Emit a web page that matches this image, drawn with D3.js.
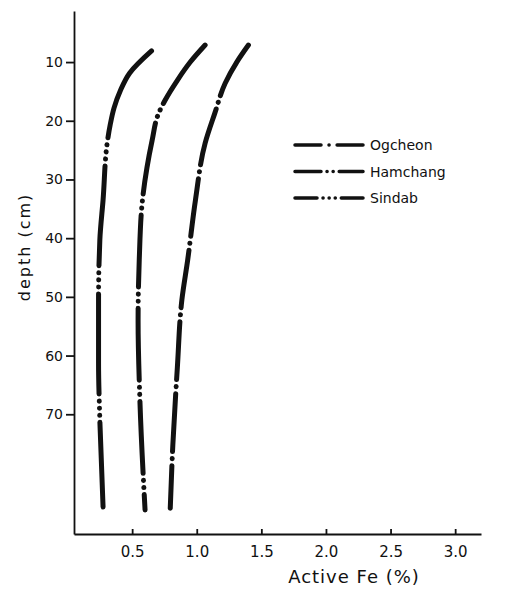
<!DOCTYPE html>
<html>
<head>
<meta charset="utf-8">
<script src="https://cdn.jsdelivr.net/npm/d3@7"></script>
<style>
  body { margin: 0; background: #fff; }
  text { font-family: "DejaVu Sans", sans-serif; fill: #111; }
</style>
</head>
<body>
<div id="chart"></div>
<script>
// depth (cm) at which the curves were read
const sindabDepth   = [8.1, 11.9, 14.8, 17.8, 20.7, 23.3, 33.5, 40.3, 50.5, 61.3, 71, 85.8];
const sindabFe      = [0.65, 0.48, 0.41, 0.36, 0.33, 0.31, 0.275, 0.25, 0.24, 0.24, 0.25, 0.275];
const hamchangDepth = [7.1, 10.0, 13.1, 16.5, 19.0, 23.3, 33.5, 43.7, 54, 67.6, 86.3];
const hamchangFe    = [1.065, 0.95, 0.85, 0.755, 0.70, 0.655, 0.58, 0.555, 0.546, 0.56, 0.60];
const ogcheonDepth  = [7.1, 10.0, 13.6, 18.7, 23.8, 33.5, 43.7, 50.5, 62, 75.2, 86];
const ogcheonFe     = [1.40, 1.31, 1.22, 1.14, 1.065, 0.99, 0.93, 0.885, 0.85, 0.815, 0.795];

const seriesNames = ['Ogcheon', 'Hamchang', 'Sindab'];
const xTicks = [0.5, 1.0, 1.5, 2.0, 2.5, 3.0];
const yTicks = [10, 20, 30, 40, 50, 60, 70];

const WIDTH = 518;
const HEIGHT = 589;

const svg = d3.select('#chart')
    .append('svg')
    .attr('width', WIDTH)
    .attr('height', HEIGHT);

const x = d3.scaleLinear().domain([0.05, 3.2]).range([74, 481]);
const y = d3.scaleLinear().domain([1.3, 90.4]).range([11, 534]);

// y axis
const yAxis = svg.append('g')
    .attr('transform', `translate(${x(0.05)},0)`)
    .call(d3.axisLeft(y).tickValues(yTicks).tickSize(8).tickSizeOuter(0).tickPadding(3));
yAxis.selectAll('path, line').attr('stroke', '#111').attr('stroke-width', 1.8);
yAxis.selectAll('text').attr('font-size', 14).style('font-family', '"DejaVu Sans", sans-serif');

// x axis, ticks pointing up
const xAxis = svg.append('g')
    .attr('transform', `translate(0,${y(90.4)})`)
    .call(d3.axisBottom(x).tickValues(xTicks).tickSize(-5).tickSizeOuter(0).tickPadding(12)
        .tickFormat(d3.format('.1f')));
xAxis.selectAll('path, line').attr('stroke', '#111').attr('stroke-width', 1.8);
xAxis.selectAll('text').attr('font-size', 15).style('font-family', '"DejaVu Sans", sans-serif');

// axis titles
svg.append('text')
    .attr('transform', `translate(25,${y(41.5)}) rotate(-90)`)
    .attr('text-anchor', 'middle')
    .attr('dominant-baseline', 'middle')
    .attr('font-size', 16)
    .attr('letter-spacing', 2)
    .text('depth (cm)');

svg.append('text')
    .attr('x', 354)
    .attr('y', 583)
    .attr('text-anchor', 'middle')
    .attr('font-size', 18)
    .attr('letter-spacing', 1)
    .text('Active Fe (%)');

// curves
const series = [
    { name: 'Ogcheon', depth: ogcheonDepth, fe: ogcheonFe, dash: '58,7,0.1,7' },
    { name: 'Hamchang', depth: hamchangDepth, fe: hamchangFe, dash: '72,7,0.1,7,0.1,7' },
    { name: 'Sindab', depth: sindabDepth, fe: sindabFe, dash: '100,7,0.1,7,0.1,7,0.1,7' }
];

const line = d3.line()
    .x(d => x(d[1]))
    .y(d => y(d[0]))
    .curve(d3.curveMonotoneY);

svg.selectAll('path.curve')
    .data(series)
    .enter()
    .append('path')
    .attr('class', 'curve')
    .attr('d', s => line(d3.zip(s.depth, s.fe)))
    .attr('fill', 'none')
    .attr('stroke', '#111')
    .attr('stroke-width', 5)
    .attr('stroke-linecap', 'round')
    .attr('stroke-dasharray', s => s.dash);

// legend
const legendDash = {
    Ogcheon: '26,8,0.1,8,30',
    Hamchang: '26,6,0.1,6,0.1,6,30',
    Sindab: '22,6,0.1,6,0.1,6,0.1,6,30'
};
const legend = svg.selectAll('g.legend')
    .data(seriesNames)
    .enter()
    .append('g')
    .attr('class', 'legend')
    .attr('transform', (d, i) => `translate(0,${145 + i * 26.5})`);

legend.append('line')
    .attr('x1', 295)
    .attr('x2', 363)
    .attr('stroke', '#111')
    .attr('stroke-width', 3.5)
    .attr('stroke-linecap', 'round')
    .attr('stroke-dasharray', d => legendDash[d]);

legend.append('text')
    .attr('x', 370)
    .attr('y', 5)
    .attr('font-size', 14)
    .text(d => d);
</script>
</body>
</html>
